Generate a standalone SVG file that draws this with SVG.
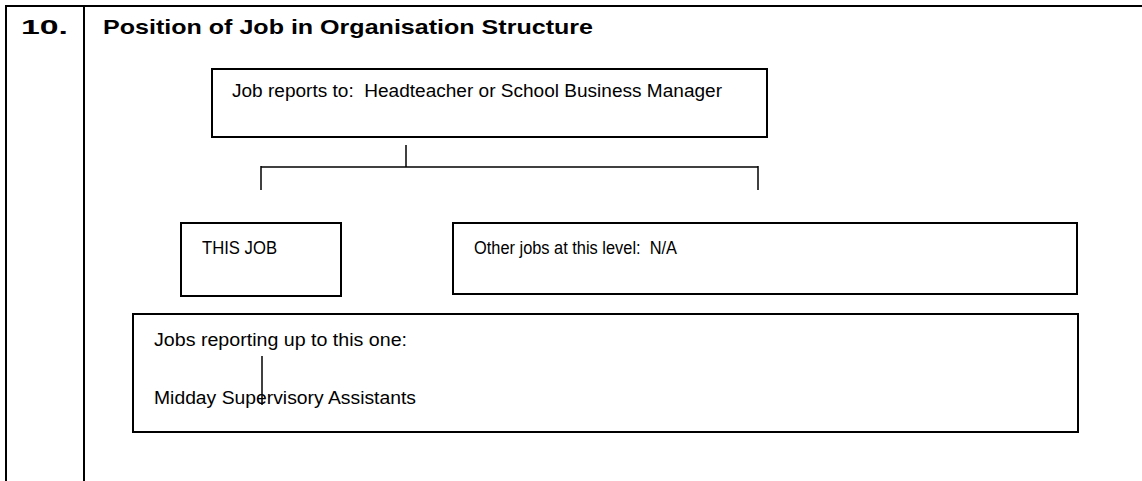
<svg xmlns="http://www.w3.org/2000/svg" width="1142" height="481" viewBox="0 0 1142 481">
  <style>
    .frame { stroke: #000; stroke-width: 2; fill: none; }
    .box { fill: #fff; stroke: #000; stroke-width: 2; }
    .line { stroke: #000; stroke-width: 1.5; fill: none; }
    .head { font-family: "Liberation Sans", Arial, sans-serif; font-weight: bold; font-size: 21px; fill: #000; }
    .label { font-family: "Liberation Sans", Arial, sans-serif; font-size: 17.5px; fill: #000; }
  </style>
  <rect width="1142" height="481" fill="#fff"/>

  <!-- table frame -->
  <g id="table">
    <line class="frame" x1="5" y1="6" x2="1142" y2="6"/>
    <line class="frame" x1="6" y1="5" x2="6" y2="481"/>
    <line class="frame" x1="84" y1="5" x2="84" y2="481"/>
    <text class="head" x="21" y="34" textLength="47" lengthAdjust="spacingAndGlyphs">10.</text>
    <text class="head" x="103" y="34" textLength="490" lengthAdjust="spacingAndGlyphs">Position of Job in Organisation Structure</text>
  </g>

  <!-- connectors -->
  <g id="connectors">
    <line class="line" x1="406" y1="145" x2="406" y2="167"/>
    <line class="line" x1="261" y1="167" x2="758" y2="167"/>
    <line class="line" x1="261" y1="166" x2="261" y2="190"/>
    <line class="line" x1="758" y1="166" x2="758" y2="190"/>
  </g>

  <g id="manager">
    <rect class="box" x="212" y="69" width="555" height="68"/>
    <text class="label" x="232" y="97" xml:space="preserve" textLength="490" lengthAdjust="spacingAndGlyphs">Job reports to:  Headteacher or School Business Manager</text>
  </g>

  <g id="this-job">
    <rect class="box" x="181" y="223" width="160" height="73"/>
    <text class="label" x="202" y="254" textLength="75" lengthAdjust="spacingAndGlyphs">THIS JOB</text>
  </g>

  <g id="other-jobs">
    <rect class="box" x="453" y="223" width="624" height="71"/>
    <text class="label" x="474" y="254" xml:space="preserve" textLength="203" lengthAdjust="spacingAndGlyphs">Other jobs at this level:  N/A</text>
  </g>

  <g id="reports">
    <rect class="box" x="133" y="314" width="945" height="118"/>
    <text class="label" x="154" y="346" textLength="253" lengthAdjust="spacingAndGlyphs">Jobs reporting up to this one:</text>
    <text class="label" x="154" y="404" textLength="262" lengthAdjust="spacingAndGlyphs">Midday Supervisory Assistants</text>
    <line class="line" x1="262" y1="356" x2="262" y2="405"/>
  </g>
</svg>
